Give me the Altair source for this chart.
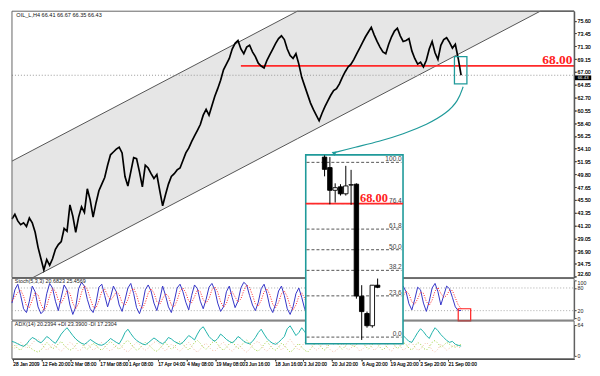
import json
import altair as alt
import pandas as pd

# ---------------- data ----------------
price = [42.28, 43.07, 41.96, 41.33, 41.64, 41.01, 42.44, 41.64, 40.06, 37.52,
         35.61, 33.71, 35.46, 34.50, 35.61, 37.20, 37.99, 38.47, 40.69, 40.22,
         44.66, 42.76, 40.06, 42.60, 44.34, 43.39, 47.36, 45.45, 42.60, 44.98,
         47.04, 48.15, 49.26, 51.32, 53.07, 53.54, 54.02, 54.34, 53.39, 49.42,
         47.83, 50.21, 52.59, 52.43, 50.21, 47.67, 51.32, 50.85, 49.90, 49.10,
         49.74, 47.04, 44.50, 46.40, 48.15, 49.42, 49.90, 50.53, 50.85, 52.12,
         53.39, 54.18, 55.29, 56.24, 57.19, 58.15, 59.73, 60.69, 59.73, 61.32,
         62.91, 64.18, 65.60, 67.35, 68.30, 69.25, 70.84, 71.79, 72.27, 70.84,
         70.05, 71.16, 71.47, 70.36, 69.57, 68.46, 67.98, 67.67, 68.94, 69.89,
         70.84, 71.79, 72.59, 73.06, 72.43, 70.84, 69.73, 69.25, 70.05, 68.30,
         66.08, 64.65, 63.22, 61.80, 60.69, 59.73, 58.78, 60.05, 61.16, 62.11,
         63.07, 63.86, 64.18, 64.97, 66.08, 67.03, 67.83, 68.30, 69.09, 70.05,
         71.00, 71.95, 72.90, 73.70, 74.49, 73.22, 72.11, 71.16, 70.36, 70.05,
         71.63, 72.90, 73.85, 74.33, 73.06, 72.11, 72.27, 72.59, 70.52, 69.25,
         68.30, 68.62, 67.83, 68.94, 70.84, 72.11, 70.21, 69.09, 71.47, 72.43,
         72.74, 71.95, 71.00, 71.63, 69.25, 66.43]

stoch_k = [40, 75, 90, 60, 25, 15, 45, 85, 70, 30, 12, 20, 65, 92, 80, 45, 20, 55, 88, 75,
           35, 10, 30, 78, 95, 85, 50, 25, 15, 40, 82, 90, 60, 30, 55, 85, 70, 35, 18, 48,
           80, 92, 65, 28, 12, 35, 75, 88, 72, 40, 20, 50, 85, 60, 30, 15, 45, 80, 90, 70,
           42, 22, 60, 88, 78, 45, 25, 50, 82, 92, 75, 40, 18, 30, 70, 85, 55, 28, 45, 80,
           95, 88, 60, 35, 20, 42, 78, 90, 65, 30, 15, 38, 72, 85, 60, 25, 10, 30, 65, 80,
           55, 25, 8, 20, 50, 75, 60, 30, 12, 40, 78, 92, 85, 55, 30, 60, 88, 75, 45, 70,
           92, 85, 55, 30, 65, 90, 78, 40, 20, 55, 88, 80, 50, 28, 60, 85, 70, 38, 22, 50,
           82, 75, 40, 18, 45, 80, 92, 70, 35, 60, 85, 78, 55, 30, 20, 20.68]

stoch_d = [45, 57, 68, 75, 58, 33, 28, 48, 67, 62, 37, 21, 32, 59, 79, 72, 48, 40, 54, 73,
           66, 40, 25, 39, 68, 86, 77, 53, 30, 27, 46, 71, 77, 60, 48, 57, 70, 63, 41, 34,
           49, 73, 79, 62, 35, 25, 41, 66, 78, 67, 44, 37, 52, 65, 58, 35, 30, 47, 72, 80,
           67, 45, 41, 57, 75, 70, 49, 40, 52, 75, 83, 69, 44, 29, 39, 62, 70, 56, 43, 51,
           73, 88, 81, 61, 38, 32, 47, 70, 78, 62, 37, 28, 42, 65, 72, 57, 32, 22, 35, 58,
           67, 53, 29, 18, 26, 48, 62, 55, 34, 27, 43, 70, 85, 77, 57, 48, 59, 74, 69, 63,
           69, 82, 77, 57, 50, 62, 78, 69, 46, 38, 54, 74, 73, 53, 46, 58, 72, 64, 43, 37,
           51, 69, 66, 44, 34, 48, 72, 81, 66, 55, 60, 74, 73, 54, 35, 25.46]

adx_main = [30, 28, 25, 22, 20, 24, 32, 38, 35, 30, 27, 33, 40, 36, 30, 26, 35, 45, 52, 58,
            50, 42, 35, 30, 26, 24, 28, 34, 30, 26, 23, 22, 25, 30, 36, 32, 28, 25, 35, 48,
            55, 46, 38, 32, 28, 25, 23, 27, 32, 37, 33, 28, 25, 30, 38, 35, 30, 27, 24, 28,
            35, 42, 38, 33, 45, 55, 60, 50, 40, 34, 30, 36, 45, 40, 34, 30, 27, 32, 40, 36,
            30, 27, 25, 30, 38, 48, 55, 45, 36, 30, 26, 24, 28, 34, 40, 56, 62, 52, 42, 48,
            58, 50, 42, 36, 31, 28, 33, 40, 36, 30, 27, 25, 30, 38, 45, 40, 34, 30, 27, 35,
            43, 38, 32, 28, 26, 30, 38, 52, 60, 50, 40, 34, 30, 28, 35, 42, 36, 30, 28, 38,
            48, 56, 50, 42, 36, 48, 58, 52, 44, 38, 32, 28, 30, 24, 22, 20.24]

plus_di = [18, 22, 15, 12, 20, 25, 18, 14, 10, 8, 12, 20, 28, 22, 15, 18, 25, 30, 22, 16,
           12, 15, 22, 30, 26, 18, 14, 20, 26, 22, 15, 12, 18, 25, 30, 24, 18, 14, 20, 28,
           32, 25, 18, 12, 15, 22, 28, 24, 18, 12, 10, 15, 22, 28, 20, 14, 18, 26, 30, 24,
           18, 12, 20, 28, 32, 26, 18, 14, 20, 27, 32, 24, 16, 12, 18, 25, 30, 22, 15, 20,
           28, 33, 26, 18, 12, 10, 16, 24, 30, 22, 15, 12, 18, 26, 22, 14, 8, 12, 20, 26,
           18, 12, 8, 14, 22, 28, 24, 16, 12, 20, 28, 34, 28, 20, 14, 20, 28, 24, 18, 24,
           32, 28, 20, 14, 20, 30, 26, 18, 12, 18, 26, 30, 22, 15, 20, 28, 24, 16, 12, 20,
           28, 24, 16, 12, 18, 28, 32, 26, 18, 22, 28, 24, 20, 18, 22, 23.39]

minus_di = [20, 16, 24, 28, 22, 16, 20, 26, 32, 35, 28, 18, 12, 16, 24, 20, 14, 10, 16, 22,
            28, 24, 16, 10, 14, 22, 26, 18, 12, 16, 24, 28, 20, 14, 10, 16, 22, 26, 18, 12,
            8, 14, 22, 28, 24, 16, 12, 16, 22, 28, 30, 24, 16, 10, 18, 24, 20, 14, 10, 16,
            22, 28, 20, 12, 8, 14, 22, 26, 18, 12, 10, 16, 24, 28, 20, 14, 10, 16, 24, 18,
            12, 8, 14, 22, 28, 30, 22, 14, 10, 16, 24, 28, 20, 12, 18, 28, 34, 26, 18, 12,
            20, 28, 34, 26, 18, 12, 16, 24, 28, 18, 12, 8, 12, 18, 26, 20, 12, 16, 24, 18,
            10, 14, 20, 26, 20, 12, 16, 24, 30, 22, 14, 10, 18, 26, 20, 12, 16, 24, 28, 18,
            12, 14, 22, 28, 22, 12, 8, 14, 24, 18, 12, 16, 20, 22, 18, 17.23]

date_labels = ["28 Jan 2009", "12 Feb 20:00", "2 Mar 08:00", "17 Mar 08:00", "1 Apr 08:00",
               "17 Apr 04:00", "4 May 08:00", "19 May 08:00", "3 Jun 16:00", "18 Jun 16:00",
               "3 Jul 20:00", "20 Jul 20:00", "6 Aug 20:00", "19 Aug 20:00", "3 Sep 20:00",
               "21 Sep 00:00"]
date_ticks = [0.3, 10.3, 20.2, 30.3, 40.2, 50.3, 60.3, 70.3, 80.3, 90.7,
              100.5, 110.3, 120.7, 130.5, 140.7, 150.5]
price_tick_labels = ["32.60", "34.75", "36.90", "39.05", "41.20", "43.35", "45.50", "47.65",
                     "49.80", "51.95", "54.10", "56.25", "58.40", "60.55", "62.70", "64.85",
                     "67.00", "69.15", "71.30", "73.45", "75.60"]

# channel boundaries (points where the lines cross the panel edges included)
chan_idx = [0, 7.24, 98.5, 182.3, 194]
chan_low = [30.59, 32.44, 55.77, 77.19, 80.17]
chan_high = [52.01, 53.86, 77.19, 98.61, 101.59]

level_price = 68.00
last_price = 66.43

arrow_idx = [155.7, 154.0, 150.0, 143.3, 135.0, 126.7, 118.3, 111.0]
arrow_price = [64.49, 62.11, 60.05, 58.15, 56.56, 55.29, 54.34, 53.39]

candle_open = [103, 97, 84, 86, 82, 87, 87.5, 23.4, 13.5, 6.5, 29.7]
candle_high = [104, 103, 88, 87.5, 98, 95.7, 88, 29.7, 14.6, 29.7, 33.5]
candle_low = [92, 76, 77, 81, 81, 75.7, 22, -1.6, 5.4, 5.4, 28]
candle_close = [96, 84, 85.5, 82, 86.5, 87.2, 23.5, 14.6, 6.5, 29.7, 28.5]

fib_levels = [100.0, 76.4, 61.8, 50.0, 38.2, 23.6, 0.0]
fib_labels = ["100.0", "76.4", "61.8", "50.0", "38.2", "23.6", "0.0"]

title_main = "OIL_L,H4  66.41 66.67 66.35 66.43"
title_stoch = "Stoch(5,3,3) 20.6823 25.4569"
title_adx = "ADX(14) 20.2394 +DI 23.3900 -DI 17.2304"

# ---------------- layout ----------------
W, H = 566, 350
SX, SY = W / 582.0, H / 368.0


def px(v):
    return v * SX


def py(v):
    return v * SY


FONT = "Liberation Sans"
SERIF = "Liberation Serif"
TEAL = "#1f9a9a"
AXC = "#444444"
AXF = 5.3


def x_scale():
    return alt.Scale(domain=[0, 194], range=[0, W], nice=False, zero=False)


main_x_axis = alt.Axis(orient="bottom", values=date_ticks,
                       labelExpr=json.dumps(date_labels) + "[round(datum.value / 10)]",
                       grid=False, tickSize=2, labelFontSize=4.8, labelAlign="left",
                       labelPadding=1, labelOverlap=False, labelFlush=False,
                       domainColor=AXC, tickColor=AXC, labelColor="#222", labelFont=FONT,
                       title=None)
main_y_scale = alt.Scale(domain=[32.44, 77.19], range=[py(282), py(0)], nice=False,
                         zero=False, clamp=True)
main_y_axis = alt.Axis(orient="right", values=[float(s) for s in price_tick_labels],
                       format=".2f", grid=False, tickSize=2, labelFontSize=AXF,
                       labelPadding=1, labelOverlap=False, labelFlush=False,
                       labelBaseline={"condition": {"test": "datum.value < 33", "value": "bottom"},
                                      "value": "middle"},
                       domainColor=AXC, tickColor=AXC, labelColor="#222", labelFont=FONT,
                       title=None)


def XM(f):
    return alt.X(f, type="quantitative", scale=x_scale(), axis=main_x_axis, title=None)


def YM(f):
    return alt.Y(f, type="quantitative", scale=main_y_scale, axis=main_y_axis, title=None)


df_p = pd.DataFrame({"i": list(range(len(price))), "p": price})
df_ch = pd.DataFrame({"i": chan_idx, "lo": chan_low, "hi": chan_high})
df_arrow = pd.DataFrame({"i": arrow_idx, "p": arrow_price})

fill = alt.Chart(df_ch).mark_area(color="#e6e6e6").encode(x=XM("i"), y=YM("lo"), y2=alt.Y2("hi"))
lo_line = alt.Chart(df_ch).mark_line(color="#555555", strokeWidth=1).encode(x=XM("i"), y=YM("lo"))
hi_line = alt.Chart(df_ch).mark_line(color="#555555", strokeWidth=1).encode(x=XM("i"), y=YM("hi"))
dotted = alt.Chart(pd.DataFrame({"a": [0], "b": [194], "p": [last_price]})).mark_rule(
    color="#999999", strokeDash=[1, 2], strokeWidth=1).encode(x=XM("a"), x2=alt.X2("b"), y=YM("p"))
red_line = alt.Chart(pd.DataFrame({"a": [79], "b": [194], "p": [level_price]})).mark_rule(
    color="#ff2a2a", strokeWidth=1.8).encode(x=XM("a"), x2=alt.X2("b"), y=YM("p"))
price_line = alt.Chart(df_p).mark_line(color="black", strokeWidth=1.7).encode(x=XM("i"), y=YM("p"))
main_frame = alt.Chart(pd.DataFrame({"a": [0], "b": [194], "lo": [32.44], "hi": [77.19]})).mark_rect(
    fillOpacity=0, stroke="#666666", strokeWidth=1).encode(
    x=XM("a"), x2=alt.X2("b"), y=YM("lo"), y2=alt.Y2("hi"))
teal_box = alt.Chart(pd.DataFrame({"a": [152.7], "b": [157.0], "lo": [64.97], "hi": [69.57]})).mark_rect(
    fillOpacity=0, stroke=TEAL, strokeWidth=1.3).encode(
    x=XM("a"), x2=alt.X2("b"), y=YM("lo"), y2=alt.Y2("hi"))
arrow = alt.Chart(df_arrow).mark_line(color=TEAL, strokeWidth=1.2, interpolate="basis").encode(
    x=XM("i"), y=YM("p"))
arrow_head = alt.Chart(df_arrow.tail(1)).mark_point(
    shape="triangle-left", filled=True, color=TEAL, size=26, angle=25, opacity=1).encode(
    x=XM("i"), y=YM("p"))
level_text = alt.Chart(pd.DataFrame({"i": [193.4], "p": [level_price]})).mark_text(
    text="68.00", font=SERIF, fontSize=13.5, fontWeight="bold", color="#ff2020",
    align="right", baseline="alphabetic", dy=-2).encode(x=XM("i"), y=YM("p"))
main_title = alt.Chart(pd.DataFrame({"i": [1.5], "p": [76.9]})).mark_text(
    text=title_main, font=FONT, fontSize=5.6, color="#111111", align="left",
    baseline="top").encode(x=XM("i"), y=YM("p"))
price_box = alt.Chart(pd.DataFrame({"a": [194.3], "b": [199.9], "lo": [65.60], "hi": [66.40]})).mark_rect(
    color="black").encode(x=XM("a"), x2=alt.X2("b"), y=YM("lo"), y2=alt.Y2("hi"))
price_box_text = alt.Chart(pd.DataFrame({"i": [197.1], "p": [last_price]})).mark_text(
    text="66.43", font=FONT, fontSize=4.4, color="white", align="center",
    baseline="middle", dy=2.8).encode(x=XM("i"), y=YM("p"))

main = alt.layer(fill, lo_line, hi_line, dotted, red_line, price_line, main_frame, teal_box,
                 level_text, main_title, price_box, price_box_text)

# ---------------- stochastic panel ----------------
st_scale = alt.Scale(domain=[0, 100], range=[py(325), py(285)], nice=False, zero=False)
st_axis = alt.Axis(orient="right", values=[0, 20, 80, 100], format="d", grid=False,
                   tickSize=2, labelFontSize=AXF, labelPadding=1, labelOverlap=False,
                   labelFlush=False,
                   labelBaseline={"condition": {"test": "datum.value > 90", "value": "top"},
                                  "value": "middle"},
                   domainColor=AXC, tickColor=AXC, labelColor="#222",
                   labelFont=FONT, title=None)


def XS(f):
    return alt.X(f, type="quantitative", scale=x_scale(), axis=None)


def YS(f):
    return alt.Y(f, type="quantitative", scale=st_scale, axis=st_axis, title=None)


df_st = pd.DataFrame({"i": list(range(len(stoch_k))), "k": stoch_k, "d": stoch_d})
st_frame = alt.Chart(pd.DataFrame({"a": [0], "b": [194], "lo": [-5], "hi": [105]})).mark_rect(
    fillOpacity=0, stroke="#666666", strokeWidth=1).encode(
    x=XS("a"), x2=alt.X2("b"), y=YS("lo"), y2=alt.Y2("hi"))
st_levels = alt.Chart(pd.DataFrame({"a": [0, 0], "b": [194, 194], "v": [80, 20]})).mark_rule(
    color="#aaaaaa", strokeDash=[1, 2]).encode(x=XS("a"), x2=alt.X2("b"), y=YS("v"))
st_k = alt.Chart(df_st).mark_line(color="#3434c8", strokeWidth=1).encode(x=XS("i"), y=YS("k"))
st_d = alt.Chart(df_st).mark_line(color="#ff2020", strokeWidth=1, strokeDash=[1, 1.5]).encode(
    x=XS("i"), y=YS("d"))
st_box = alt.Chart(pd.DataFrame({"a": [154.0], "b": [158.3], "lo": [-7], "hi": [25]})).mark_rect(
    fillOpacity=0, stroke="#ff2020", strokeWidth=1.2).encode(
    x=XS("a"), x2=alt.X2("b"), y=YS("lo"), y2=alt.Y2("hi"))
st_title = alt.Chart(pd.DataFrame({"i": [1.0], "v": [103]})).mark_text(
    text=title_stoch, font=FONT, fontSize=5.4, color="#222222", align="left",
    baseline="top").encode(x=XS("i"), y=YS("v"))
stoch = alt.layer(st_frame, st_levels, st_k, st_d, st_box, st_title)

# ---------------- ADX panel ----------------
adx_scale = alt.Scale(domain=[0, 64], range=[py(365), py(332)], nice=False, zero=False)
adx_axis = alt.Axis(orient="right", values=[0, 64], format="d", grid=False,
                    tickSize=2, labelFontSize=AXF, labelPadding=1, labelOverlap=False,
                    labelFlush=False, domainColor=AXC, tickColor=AXC, labelColor="#222",
                    labelFont=FONT, title=None)


def YA(f):
    return alt.Y(f, type="quantitative", scale=adx_scale, axis=adx_axis, title=None)


df_adx = pd.DataFrame({"i": list(range(len(adx_main))), "adx": adx_main,
                       "pdi": plus_di, "mdi": minus_di})
adx_frame = alt.Chart(pd.DataFrame({"a": [0], "b": [194], "lo": [-5.8], "hi": [71.8]})).mark_rect(
    fillOpacity=0, stroke="#666666", strokeWidth=1).encode(
    x=XS("a"), x2=alt.X2("b"), y=YA("lo"), y2=alt.Y2("hi"))
adx_pdi = alt.Chart(df_adx).mark_line(color="#9acd32", strokeWidth=1, strokeDash=[1, 2]).encode(
    x=XS("i"), y=YA("pdi"))
adx_mdi = alt.Chart(df_adx).mark_line(color="#f0b8a0", strokeWidth=1, strokeDash=[1, 2]).encode(
    x=XS("i"), y=YA("mdi"))
adx_line = alt.Chart(df_adx).mark_line(color="#20b2aa", strokeWidth=1).encode(
    x=XS("i"), y=YA("adx"))
adx_title = alt.Chart(pd.DataFrame({"i": [1.0], "v": [70.5]})).mark_text(
    text=title_adx, font=FONT, fontSize=5.4, color="#222222", align="left",
    baseline="top").encode(x=XS("i"), y=YA("v"))
adx = alt.layer(adx_frame, adx_pdi, adx_mdi, adx_line, adx_title)

# ---------------- zoom inset ----------------
in_x = alt.Scale(domain=[-3.55, 14.79], range=[px(299), px(410)], nice=False, zero=False)
in_y = alt.Scale(domain=[0, 100], range=[py(345), py(160)], nice=False, zero=False)


def XI(f):
    return alt.X(f, type="quantitative", scale=in_x, axis=None)


def YI(f):
    return alt.Y(f, type="quantitative", scale=in_y, axis=None)


df_c = pd.DataFrame({"i": list(range(len(candle_open))), "o": candle_open, "h": candle_high,
                     "l": candle_low, "c": candle_close})
df_fib = pd.DataFrame({"a": [-3.4] * len(fib_levels), "b": [14.5] * len(fib_levels),
                       "t": [14.55] * len(fib_levels), "v": fib_levels, "lab": fib_labels})

in_box = alt.Chart(pd.DataFrame({"a": [-3.55], "b": [14.79], "lo": [-3.8], "hi": [104.3]})).mark_rect(
    fill="white", stroke=TEAL, strokeWidth=1.6).encode(
    x=XI("a"), x2=alt.X2("b"), y=YI("lo"), y2=alt.Y2("hi"))
in_fib = alt.Chart(df_fib).mark_rule(color="#555555", strokeDash=[3, 2], strokeWidth=1).encode(
    x=XI("a"), x2=alt.X2("b"), y=YI("v"))
in_red = alt.Chart(pd.DataFrame({"a": [-3.55], "b": [14.79], "v": [76.4]})).mark_rule(
    color="#ff2a2a", strokeWidth=1.8).encode(x=XI("a"), x2=alt.X2("b"), y=YI("v"))
in_wick = alt.Chart(df_c).mark_rule(color="black", strokeWidth=1).encode(
    x=XI("i"), y=YI("l"), y2=alt.Y2("h"))
in_body = alt.Chart(df_c).mark_bar(size=px(4.6), stroke="black", strokeWidth=0.9).encode(
    x=XI("i"), y=YI("o"), y2=alt.Y2("c"),
    color=alt.condition(alt.datum.c < alt.datum.o, alt.value("black"), alt.value("white")))
in_fib_text = alt.Chart(df_fib).mark_text(font=FONT, fontSize=6.6, color="#444444",
                                          align="right", baseline="alphabetic", dy=-1).encode(
    x=XI("t"), y=YI("v"), text="lab:N")
in_level_text = alt.Chart(pd.DataFrame({"i": [9.3], "v": [76.4]})).mark_text(
    text="68.00", font=SERIF, fontSize=12.5, fontWeight="bold", color="#ff2020",
    align="center", baseline="alphabetic", dy=-2).encode(x=XI("i"), y=YI("v"))
inset = alt.layer(in_box, in_fib, in_red, in_wick, in_body, in_fib_text, in_level_text)

arrow_layer = alt.layer(arrow, arrow_head)

chart = alt.layer(main, stoch, adx, inset, arrow_layer).resolve_scale(
    x="independent", y="independent", color="independent"
).properties(
    width=W, height=H, padding=0, background="white"
).configure_view(stroke="transparent")

chart.save("out.html", embed_options={"renderer": "svg", "actions": False})
